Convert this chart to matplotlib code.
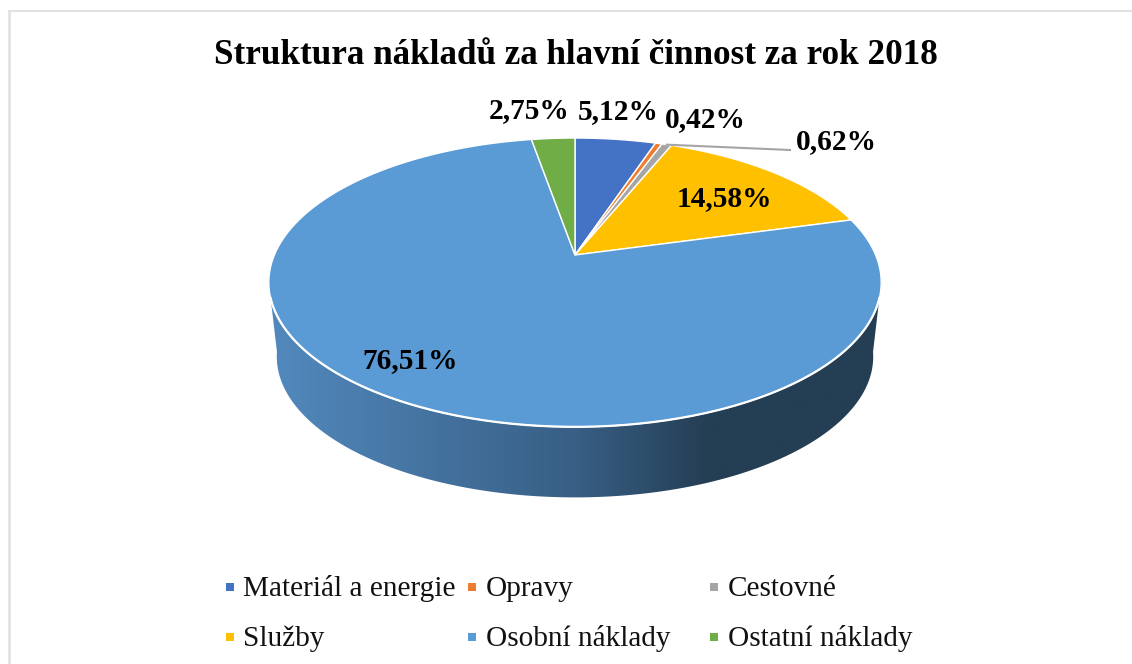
import matplotlib
matplotlib.use("Agg")
import matplotlib.pyplot as plt
import numpy as np
from matplotlib.colors import LinearSegmentedColormap
from matplotlib.patches import Polygon, Rectangle

title = "Struktura nákladů za hlavní činnost za rok 2018"
categories = ["Materiál a energie", "Opravy", "Cestovné", "Služby", "Osobní náklady", "Ostatní náklady"]
values = [5.12, 0.42, 0.62, 14.58, 76.51, 2.75]
labels = ["5,12%", "0,42%", "0,62%", "14,58%", "76,51%", "2,75%"]
colours = ["#4472c4", "#ed7d31", "#a5a5a5", "#ffc000", "#5b9bd5", "#70ad47"]
label_pos = [(618, 112), (705, 120), (836, 142), (724, 199), (410, 361), (529, 111)]

plt.rcParams["font.family"] = ["Liberation Serif", "DejaVu Serif"]

# projected disc: apex, radius, vertical scale and perspective strength
cx, cy = 575, 255
R, K, P = 300.6, 139.2, 0.19
DEPTH, BOTTOM_SCALE = 75, 0.974


def rim(theta, drop=0.0, scale=1.0):
    s = 1 / (1 + P * np.cos(theta))
    x = cx + scale * R * np.sin(theta) * s
    y = cy + drop - scale * K * np.cos(theta) * s
    return x, y


fig = plt.figure(figsize=(11.32, 6.64), dpi=100)
ax = fig.add_axes([0, 0, 1, 1])

# frame of the pasted chart, only top and left are visible
ax.plot([9, 1132], [10.5, 10.5], color="#e2e2e2", lw=1.5)
ax.plot([9, 9], [10.5, 664], color="#e2e2e2", lw=2)

# side wall, the lower rim turns further round than the upper one
top_x, top_y = rim(np.radians(np.linspace(107, 253, 200)))
bot_x, bot_y = rim(np.radians(np.linspace(99, 261, 200)), DEPTH, BOTTOM_SCALE)
wall = Polygon(np.column_stack([np.r_[top_x, bot_x[::-1]], np.r_[top_y, bot_y[::-1]]]),
               closed=True, facecolor="none", edgecolor="none", transform=ax.transData)
ax.add_patch(wall)
shade = LinearSegmentedColormap.from_list(
    "wall", [(0, "#5289bd"), (0.5, "#385f85"), (0.72, "#243e54"), (1, "#243e54")])
img = ax.imshow(np.linspace(0, 1, 512).reshape(1, -1), cmap=shade, aspect="auto",
                extent=(270, 880, 500, 280), zorder=1)
img.set_clip_path(wall)

# top slices
edges = np.r_[0, np.cumsum(values)] / np.sum(values) * 2 * np.pi
for i, colour in enumerate(colours):
    tt = np.linspace(edges[i], edges[i + 1], max(3, int(values[i] * 6)))
    x, y = rim(tt)
    pts = np.column_stack([np.r_[cx, x], np.r_[cy, y]])
    ax.add_patch(Polygon(pts, closed=True, facecolor=colour, edgecolor="white", lw=1.0, zorder=2))

# white highlight where the top meets the wall
ax.plot(top_x, top_y, color="white", lw=1.6, zorder=3)

# leader line of the small slice
mid = (edges[2] + edges[3]) / 2
lx, ly = rim(mid)
ax.plot([lx, 790], [ly, 150], color="#a5a5a5", lw=1.5, zorder=3)

for text, (x, y) in zip(labels, label_pos):
    ax.text(x, y, text, ha="center", va="center", fontsize=21.2, fontweight="bold", color="black", zorder=4)

ax.text(576, 55, title, ha="center", va="center", fontsize=25.25, fontweight="bold", color="black")

# legend, three columns on two rows
for i, (name, colour) in enumerate(zip(categories, colours)):
    col, row = i % 3, i // 3
    ax.add_patch(Rectangle((226 + 242 * col, 583 + 50 * row), 8, 8, facecolor=colour, edgecolor="none"))
    ax.text(243 + 242.5 * col, 589 + 50 * row, name, ha="left", va="center", fontsize=21.1, color="#111111")

ax.set_xlim(0, 1132)
ax.set_ylim(664, 0)
ax.axis("off")
fig.savefig("out.png", dpi=100, facecolor="white")
